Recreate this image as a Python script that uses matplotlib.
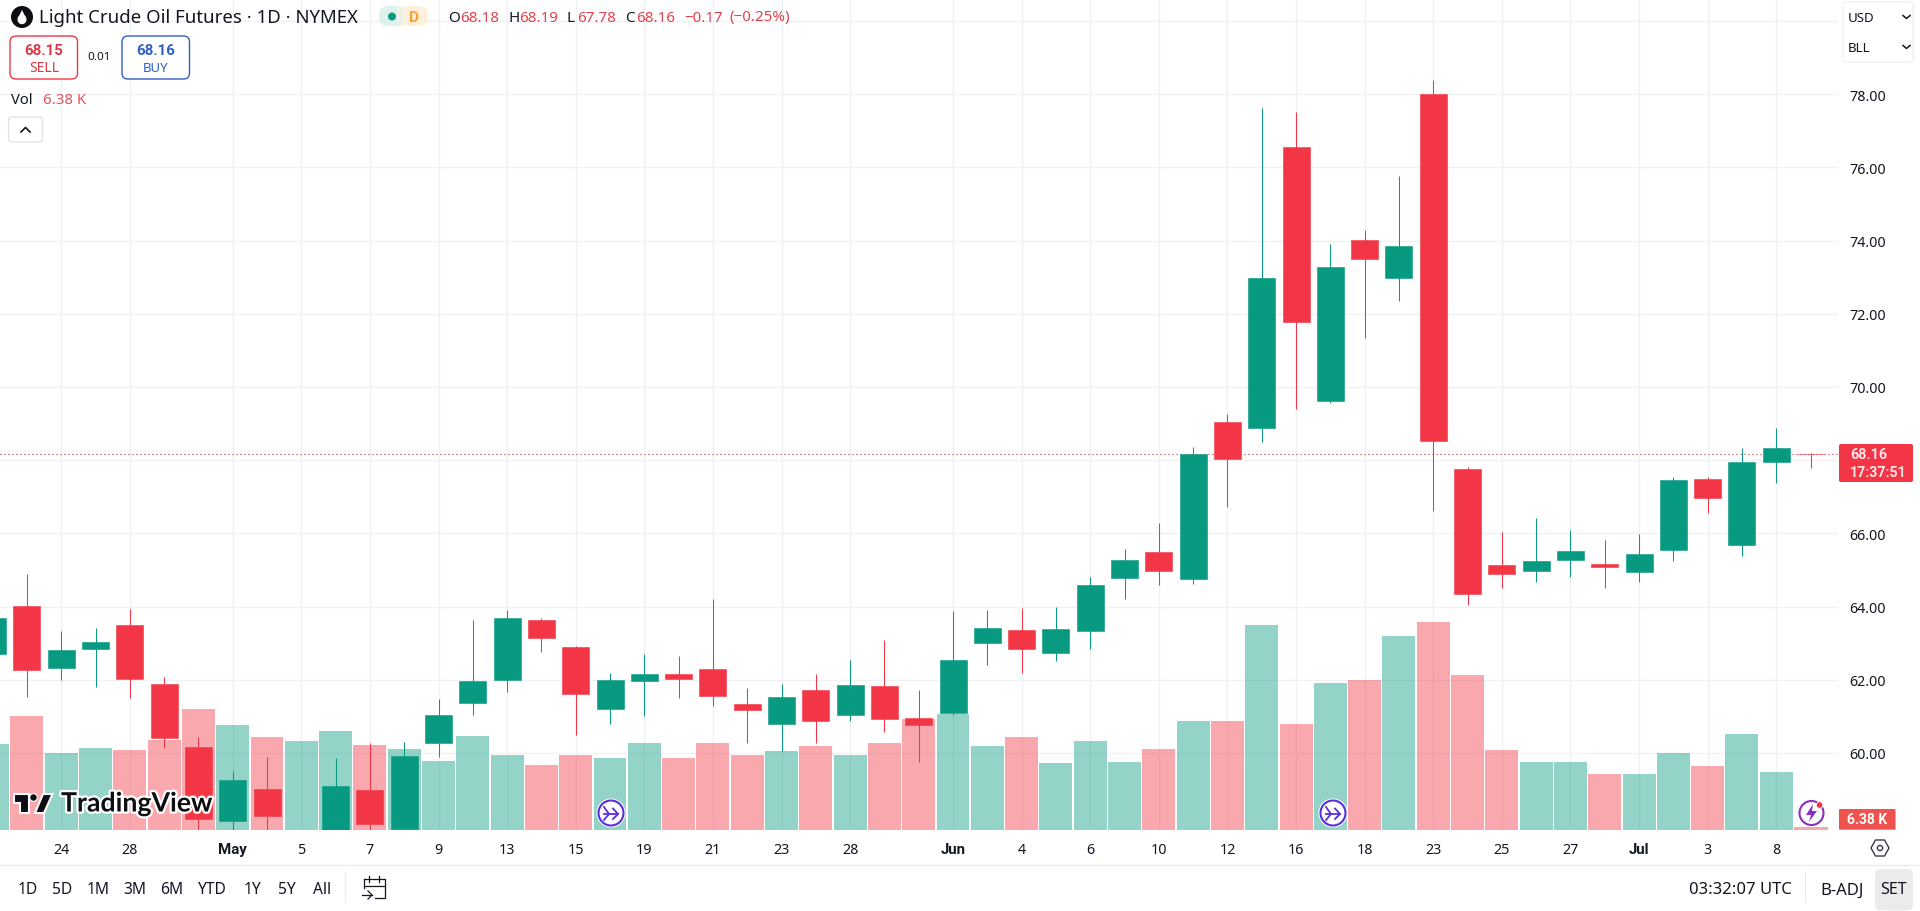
import matplotlib
matplotlib.use("Agg")
import matplotlib.pyplot as plt
from matplotlib.patches import FancyBboxPatch, Rectangle, Circle, Polygon, Ellipse
import matplotlib.patheffects as pe

plt.rcParams['font.family'] = ['Noto Sans', 'DejaVu Sans']
BOLD = ['Roboto', 'DejaVu Sans']

opens = [62.71, 64.02, 62.33, 62.85, 63.50, 61.89, 60.16, 58.15, 59.02, 57.00, 57.30, 58.99, 57.92, 60.26,
         61.37, 62.00, 63.63, 62.90, 61.21, 61.98, 62.16, 62.30, 61.34, 60.80, 61.72, 61.05, 61.83, 60.96,
         61.10, 63.01, 63.36, 62.74, 63.32, 64.79, 65.48, 64.76, 69.05, 68.89, 76.56, 69.63, 74.01, 72.98,
         78.00, 67.75, 65.14, 64.98, 65.28, 65.16, 64.95, 65.54, 67.49, 65.68, 67.96, 68.18]
highs = [64.00, 64.89, 63.33, 63.41, 63.93, 62.08, 60.44, 59.51, 59.88, 57.70, 59.86, 60.27, 60.30, 61.48,
         63.63, 63.91, 63.69, 62.92, 62.19, 62.70, 62.65, 64.21, 61.78, 61.89, 62.16, 62.55, 63.09, 61.72,
         63.88, 63.91, 63.95, 63.99, 64.81, 65.58, 66.28, 68.35, 69.26, 77.63, 77.50, 73.91, 74.28, 75.76,
         78.40, 67.82, 66.05, 66.41, 66.08, 65.81, 65.98, 67.55, 67.55, 68.32, 68.89, 68.19]
lows = [62.50, 61.54, 62.00, 61.81, 61.50, 60.14, 57.50, 57.60, 57.50, 56.50, 56.90, 57.50, 57.85, 59.89,
        61.05, 61.67, 62.76, 60.50, 60.80, 61.02, 61.51, 61.29, 60.28, 60.05, 60.28, 60.88, 60.58, 59.76,
        61.05, 62.41, 62.19, 62.52, 62.85, 64.22, 64.60, 64.63, 66.72, 68.49, 69.39, 69.55, 71.34, 72.34,
        66.60, 64.03, 64.52, 64.68, 64.82, 64.52, 64.68, 65.25, 66.55, 65.37, 67.37, 67.78]
closes = [63.69, 62.28, 62.81, 63.03, 62.03, 60.42, 58.20, 59.26, 58.29, 57.50, 59.10, 58.06, 59.92, 61.04,
          61.97, 63.69, 63.15, 61.62, 61.99, 62.16, 62.03, 61.57, 61.18, 61.53, 60.88, 61.86, 60.94, 60.77,
          62.54, 63.42, 62.85, 63.39, 64.59, 65.28, 64.98, 68.16, 68.02, 72.98, 71.77, 73.28, 73.51, 73.85,
          68.52, 64.35, 64.90, 65.25, 65.51, 65.08, 65.44, 67.45, 66.98, 67.95, 68.33, 68.16]
volumes = [205, 272, 183, 195, 191, 215, 289, 250, 222, 212, 236, 203, 193, 164, 224, 179, 155, 179, 171, 207,
           171, 207, 179, 188, 200, 179, 207, 265, 277, 200, 222, 160, 212, 162, 193, 260, 260, 490, 253, 351,
           358, 463, 497, 370, 191, 162, 162, 133, 133, 183, 152, 229, 138, 6.38]
tick_bars = [2, 4, 7, 9, 11, 13, 15, 17, 19, 21, 23, 25, 28, 30, 32, 34, 36, 38, 40, 42, 44, 46, 48, 50, 52]
tick_labels = ['24', '28', 'May', '5', '7', '9', '13', '15', '19', '21', '23', '28', 'Jun', '4', '6', '10', '12',
               '16', '18', '23', '25', '27', 'Jul', '3', '8']
price_ticks = [60, 62, 64, 66, 68, 70, 72, 74, 76, 78, 80]
last_price = 68.16

UP, DOWN = '#089981', '#F23645'
W, H = 1920, 912
PANE_R, PANE_B = 1838, 830.7
fig = plt.figure(figsize=(W / 100, H / 100), dpi=100, facecolor='white')
rect = [0, 1 - PANE_B / H, PANE_R / W, PANE_B / H]

bars = range(len(opens))
xlim = (0.2157, 53.80)
ylim = (57.904, 80.60)

ax_grid = fig.add_axes(rect, zorder=0)
ax_vol = fig.add_axes(rect, zorder=1, facecolor='none')
ax = fig.add_axes(rect, zorder=2, facecolor='none')
for a in (ax_grid, ax_vol, ax):
    a.set_xlim(*xlim)
    for s in a.spines.values():
        s.set_visible(False)

ax_grid.set_ylim(*ylim)
ax_grid.set_xticks(tick_bars)
ax_grid.set_xticklabels(tick_labels, fontsize=10.3, color='#131722')
for lab in ax_grid.get_xticklabels():
    if lab.get_text() in ('May', 'Jun', 'Jul'):
        lab.set_family(BOLD)
        lab.set_fontweight('bold')
        lab.set_fontsize(10.8)
ax_grid.set_yticks(price_ticks[:-1])
# the last-price tag covers the label nearest to it, as on the reference
ax_grid.set_yticklabels(['' if abs(p - last_price) < 0.5 else f'{p:.2f}' for p in price_ticks[:-1]],
                        fontsize=10.3, color='#131722')
ax_grid.yaxis.tick_right()
ax_grid.tick_params(axis='x', length=0, pad=9)
ax_grid.tick_params(axis='y', length=0, pad=8)
ax_grid.grid(True, color='#F0F1F3', lw=1)
ax_grid.set_axisbelow(True)
ax_grid.axhline(80, color='#F0F1F3', lw=1)

ax_vol.set_ylim(0, 1987)
ax_vol.axis('off')
ax_vol.bar(bars, volumes,
           width=0.96,
           color=[UP if c >= o else DOWN for o, c in zip(opens, closes)],
           alpha=0.43, linewidth=0)

ax.set_ylim(*ylim)
ax.axis('off')
cols = [UP if c >= o else DOWN for o, c in zip(opens, closes)]
ax.vlines(bars, lows, highs, colors=cols, lw=0.75, zorder=2)
ax.bar(bars, [abs(c - o) for o, c in zip(opens, closes)],
       bottom=[min(o, c) for o, c in zip(opens, closes)],
       width=0.787, color=cols, edgecolor=cols, linewidth=0.4, zorder=3)
ax.axhline(last_price, color='#C8303C', lw=0.8, ls=(0, (1, 2.6)), zorder=1)

# ---- interface overlay, in pixels
ui = fig.add_axes([0, 0, 1, 1], zorder=5, facecolor='none')
ui.set_xlim(0, W)
ui.set_ylim(H, 0)
ui.axis('off')
INK = '#131722'


def txt(x, y, s, size=10.3, color=INK, ha='left', weight='normal', **kw):
    if weight == 'bold' and 'family' not in kw:
        kw['family'] = BOLD
    return ui.text(x, y, s, fontsize=size, color=color, ha=ha, va='center', fontweight=weight, **kw)


def box(x0, y0, x1, y1, ec='none', fc='white', r=5, lw=1):
    p = FancyBboxPatch((x0 + r, y0 + r), x1 - x0 - 2 * r, y1 - y0 - 2 * r,
                       boxstyle=f'round,pad={r},rounding_size={r}', ec=ec, fc=fc, lw=lw)
    ui.add_patch(p)


# header
ui.add_patch(Circle((22, 18), 11, fc='#0c0e12', ec='none'))
ui.add_patch(Ellipse((22, 20.5), 9, 9.5, fc='white', ec='none'))
ui.add_patch(Polygon([(22, 11), (18, 19), (26, 19)], fc='white', ec='none'))
txt(39, 18, 'Light Crude Oil Futures · 1D · NYMEX', size=13.4)
box(379, 7, 405, 27, fc='#DDF2EE', r=9)
box(399, 7, 428, 27, fc='#FFF0DC', r=9)
ui.add_patch(Rectangle((397, 7), 6, 20, fc='#EEF1E6', ec='none'))
ui.add_patch(Circle((392, 17.5), 4, fc=UP, ec='none'))
txt(414, 18, 'D', size=11, color='#F7A030', ha='center', weight='bold')

RED = '#E0424F'
for x, s, c in [(448, 'O', INK), (460, '68.18', RED), (508.5, 'H', INK), (519.5, '68.19', RED),
                (567, 'L', INK), (577, '67.78', RED), (625, 'C', INK), (636, '68.16', RED),
                (684, '−0.17', RED), (729, '(−0.25%)', RED)]:
    txt(x, 18, s, size=10.9, color=c)

box(10, 37, 77.5, 80, ec=DOWN, r=6)
txt(44, 51, '68.15', size=10.8, color='#D83A47', ha='center', weight='bold')
txt(44, 68, 'SELL', size=10, color='#D83A47', ha='center')
txt(99.3, 57.5, '0.01', size=8.4, ha='center')
box(122, 37, 189.5, 80, ec='#2F5FC4', r=6)
txt(156, 51, '68.16', size=10.8, color='#2F5FC4', ha='center', weight='bold')
txt(156, 68, 'BUY', size=9.5, color='#2F5FC4', ha='center')
txt(11, 100, 'Vol', size=10.6)
txt(43, 100, '6.38 K', size=10.8, color='#E2545A')
box(8.6, 118, 42.5, 143, ec='#E0E3EB', r=3)
ui.plot([21, 25.5, 30], [133, 128.5, 133], color=INK, lw=1.2)

# currency / unit selector
box(1843, 3, 1913, 63, ec='#EEF0F3', r=4)
txt(1848, 19, 'USD', size=9.6)
txt(1848, 49, 'BLL', size=9.6)
for yy in (18, 48):
    ui.plot([1903, 1906.5, 1910], [yy - 1.5, yy + 1.5, yy - 1.5], color=INK, lw=1.1)

# last price and volume labels
box(1839, 445, 1913, 483, fc=DOWN, r=2)
txt(1850, 455.5, '68.16', size=10.4, color='#FFE3E5', weight='bold')
txt(1850, 473, '17:37:51', size=10.2, color='#FFE3E5', weight='bold')
box(1839, 810, 1895.5, 830.7, fc='#EF5350', r=1)
txt(1867, 820.5, '6.38 K', size=10, color='white', ha='center', weight='bold')

# watermark
wm = [pe.withStroke(linewidth=3.2, foreground='white')]
LOGO = '#0c0e12'
ui.add_patch(Polygon([(14, 795), (28.5, 795), (28.5, 814), (20, 814), (20, 804), (14, 804)],
                     fc=LOGO, ec='white', lw=1.5))
ui.add_patch(Circle((33.5, 798.5), 3.8, fc=LOGO, ec='white', lw=0.8))
ui.add_patch(Polygon([(35, 814), (43, 795), (52.5, 795), (44, 814)], fc=LOGO, ec='white', lw=1.5))
txt(61, 804.5, 'TradingView', size=19.2, color=LOGO, weight='bold', path_effects=wm, family=['Lato', 'DejaVu Sans'])

# event icons
for cx in (611, 1333):
    ui.add_patch(Circle((cx, 814), 14.5, fc='white', ec='none'))
    ui.add_patch(Circle((cx, 814), 12.5, fc='white', ec='#5B2EDB', lw=1.5))
    ui.plot([cx - 7, cx + 7], [815, 815], color='#5B2EDB', lw=1.3)
    ui.plot([cx - 7, cx - 2, cx - 7], [808, 815, 821], color='#5B2EDB', lw=1.3)
    ui.plot([cx + 2, cx + 7, cx + 2], [809.5, 815, 820], color='#5B2EDB', lw=1.3)
ui.add_patch(Circle((1811.5, 814), 15, fc='white', ec='none'))
ui.add_patch(Circle((1811.5, 814), 12, fc='white', ec='#8A2FC0', lw=1.5))
ui.add_patch(Polygon([(1813, 805), (1806, 816), (1811, 816), (1809, 823), (1817, 812), (1812, 812)],
                     fc='#8A2FC0', ec='none'))
ui.add_patch(Circle((1819.6, 806), 3.3, fc='#F23645', ec='white', lw=0.6))
ui.add_patch(Rectangle((1795, 828), 33, 2.7, fc='#F7A9A9', ec='none'))

# axis settings icon
hx, hy = 1880, 849
ui.add_patch(Polygon([(hx - 9, hy), (hx - 4.5, hy - 8), (hx + 4.5, hy - 8), (hx + 9, hy), (hx + 4.5, hy + 8),
                      (hx - 4.5, hy + 8)], fc='white', ec='#3A3E4A', lw=1))
ui.add_patch(Circle((hx, hy), 2.6, fc='white', ec='#3A3E4A', lw=1))

# bottom toolbar
ui.plot([0, W], [866, 866], color='#E9EBEF', lw=1)
for x, s in zip([27.8, 62.4, 98.4, 135, 171.4, 212.7, 252, 286.5, 321.6],
                ['1D', '5D', '1M', '3M', '6M', 'YTD', '1Y', '5Y', 'All']):
    txt(x, 890.5, s, size=11.2, ha='center')
ui.plot([345, 345], [873, 903], color='#E9EBEF', lw=1)
ui.plot([363.5, 363.5], [889, 880], color=INK, lw=0.9)
ui.plot([363.5, 385, 385, 375], [880, 880, 899, 899], color=INK, lw=0.9)
ui.plot([363.5, 385], [887, 887], color=INK, lw=0.9)
ui.plot([369, 369], [877, 883], color=INK, lw=0.9)
ui.plot([379, 379], [877, 883], color=INK, lw=0.9)
ui.plot([362, 372], [896, 896], color=INK, lw=0.9)
ui.plot([368, 372, 368], [892, 896, 900], color=INK, lw=0.9)
txt(1740, 890.5, '03:32:07 UTC', size=12, ha='center')
ui.plot([1805, 1805], [873, 903], color='#E9EBEF', lw=1)
txt(1842, 890.5, 'B-ADJ', size=12, ha='center')
box(1875, 870, 1913, 911.5, fc='#EBEBEB', r=6)
txt(1893.5, 890.5, 'SET', size=11.5, ha='center')

fig.savefig('out.png', dpi=100, facecolor='white')
